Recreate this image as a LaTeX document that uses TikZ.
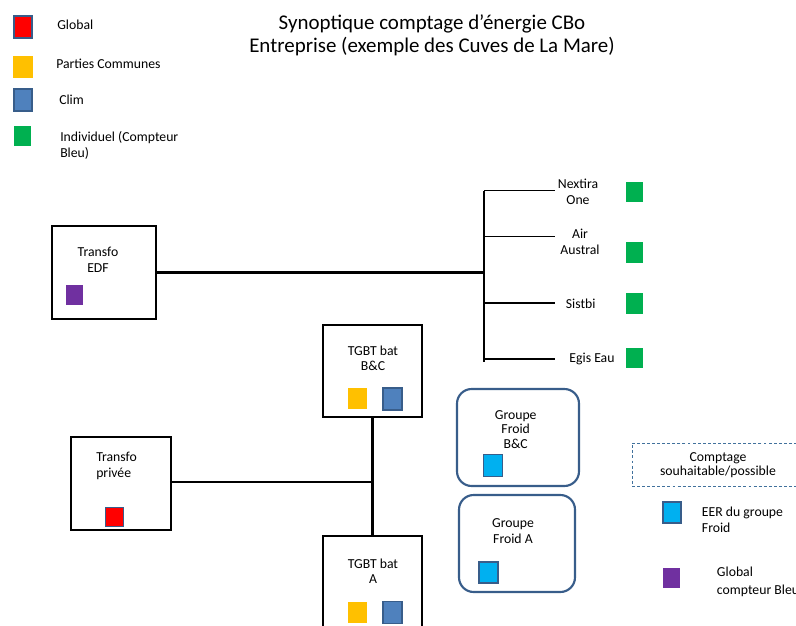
\documentclass[tikz,border=0pt]{standalone}
\usepackage{fontspec}
\setmainfont{Carlito}
\definecolor{mred}{HTML}{FF0000}
\definecolor{morange}{HTML}{FFC000}
\definecolor{mblue}{HTML}{4F81BD}
\definecolor{mborder}{HTML}{385D8A}
\definecolor{mgreen}{HTML}{00B050}
\definecolor{mpurple}{HTML}{7030A0}
\definecolor{mcyan}{HTML}{00B0F0}
\definecolor{dashblue}{HTML}{41719C}
\begin{document}
\begin{tikzpicture}[x=0.75pt,y=-0.75pt,
  every node/.style={font=\fontsize{10.3pt}{12pt}\selectfont, text=black},
  sq/.style 2 args={inner sep=0pt, minimum width=#1*0.75pt, minimum height=#2*0.75pt},
  redm/.style={fill=mred, draw=mborder, line width=1.2pt},
  orangem/.style={fill=morange},
  bluem/.style={fill=mblue, draw=mborder, line width=1.2pt},
  greenm/.style={fill=mgreen},
  purplem/.style={fill=mpurple},
  cyanm/.style={fill=mcyan, draw=mborder, line width=1.2pt},
  box/.style={draw=black, line width=1.6pt, inner sep=0pt},
  rbox/.style={draw=mborder, line width=1.6pt, rounded corners=11pt, inner sep=0pt},
  lbl/.style={align=center, inner sep=0pt},
  lbll/.style={align=left, inner sep=0pt, anchor=west},
  wire/.style={line width=1.6pt},
  thinwire/.style={line width=0.8pt},
  buswire/.style={line width=2.2pt}
]
\useasboundingbox (0,0) rectangle (796,625);
\clip (0,0) rectangle (796,625);

% Legend
\node[sq={18}{22}, redm] (lgred) at (23,27) {};
\node[lbll] (lgredt) at (57,25) {Global};
\node[sq={20}{22}, orangem] (lgor) at (23,67) {};
\node[lbll] (lgort) at (56,64) {Parties Communes};
\node[sq={18}{22}, bluem] (lgbl) at (23,100) {};
\node[lbll] (lgblt) at (59,100) {Clim};
\node[sq={17}{20}, greenm] (lggr) at (22.5,136) {};
\node[lbll] (lggrt) at (60,145) {Individuel (Compteur\\Bleu)};

% Title
\node[align=center, inner sep=0pt, font=\fontsize{15.7pt}{17.3pt}\selectfont] (title) at (432,35.5)
  {Synoptique comptage d’énergie CBo\\Entreprise (exemple des Cuves de La Mare)};

% Transfo EDF
\node[box, minimum width=104*0.75pt, minimum height=93*0.75pt] (edf) at (104,272.5) {};
\node[lbl] (edft) at (98,260) {Transfo\\EDF};
\node[sq={17}{20}, purplem] (edfm) at (74.5,295) {};

% Bus and branches
\coordinate (bustop) at (484,190.5);
\coordinate (busbot) at (484,362);
\draw[buswire] (bustop) -- (busbot);
\draw[wire] (edf.east) -- (edf.east -| bustop);
\coordinate (b1) at (555,190.5);
\coordinate (b2) at (555,236.7);
\coordinate (b3) at (555,303);
\coordinate (b4) at (555,359);
\foreach \b in {b1,b2,b3,b4} \draw[thinwire] (\b -| bustop) -- (\b);
\node[lbl] (nex) at (578,192) {Nextira\\One};
\node[lbl] (air) at (580,241.5) {Air\\Austral};
\node[lbl] (sis) at (580.7,304) {Sistbi};
\node[lbl] (egis) at (592,359) {Egis Eau};
\node[sq={17}{20}, greenm] (g1) at (634.3,192) {};
\node[sq={17}{21}, greenm] (g2) at (634.3,252.5) {};
\node[sq={17}{21}, greenm] (g3) at (634.3,303.5) {};
\node[sq={17}{20}, greenm] (g4) at (634.3,358) {};

% TGBT B&C
\node[box, minimum width=99*0.75pt, minimum height=92*0.75pt] (tbc) at (372.5,371) {};
\node[lbl, font=\fontsize{10.3pt}{11pt}\selectfont] (tbct) at (373,358.5) {TGBT bat\\B\&C};
\node[sq={19}{21}, orangem] (tbco) at (357.5,398.5) {};
\node[sq={19}{22}, bluem] (tbcb) at (392.5,399) {};

% TGBT A
\node[box, minimum width=99*0.75pt, minimum height=92*0.75pt] (ta) at (372.5,582) {};
\node[lbl, font=\fontsize{10.3pt}{11pt}\selectfont] (tat) at (373,571) {TGBT bat\\A};
\node[sq={19}{21}, orangem] (tao) at (357.5,612.5) {};
\node[sq={19}{22}, bluem] (tab) at (392.5,612.5) {};

% Transfo privée
\node[box, minimum width=100*0.75pt, minimum height=93*0.75pt] (tp) at (121,483.5) {};
\node[lbll] (tpt) at (96,465.5) {Transfo\\privée};
\node[sq={18}{19}, redm] (tpm) at (114.5,517) {};

\draw[wire] (tbc.south) -- (ta.north);
\coordinate (junc) at (373,482);
\draw[wire] (tp.east |- junc) -- (junc);

% Groupes froid
\node[rbox, minimum width=122*0.75pt, minimum height=97*0.75pt] (gfbc) at (518,437.5) {};
\node[lbl, font=\fontsize{10.3pt}{11pt}\selectfont] (gfbct) at (515.7,429.5) {Groupe\\Froid\\B\&C};
\node[sq={19}{22}, cyanm] (gfbcm) at (493,465.3) {};
\node[rbox, minimum width=116*0.75pt, minimum height=97*0.75pt] (gfa) at (517,543.5) {};
\node[lbl] (gfat) at (513,531) {Groupe\\Froid A};
\node[sq={19}{21}, cyanm] (gfam) at (488.3,572.2) {};

% Right legend
\node[draw=dashblue, line width=0.7pt, dash pattern=on 2.2pt off 1.6pt, inner sep=0pt,
  minimum width=180*0.75pt, minimum height=43*0.75pt] (dbox) at (722,464.5) {};
\node[lbl, font=\fontsize{10.3pt}{11pt}\selectfont] (dboxt) at (718,465) {Comptage\\souhaitable/possible};
\node[sq={18}{21}, cyanm] (lgcy) at (671.7,512.3) {};
\node[lbll] (lgcyt) at (701.7,520) {EER du groupe\\Froid};
\node[sq={17}{20}, purplem] (lgpu) at (671.5,577.7) {};
\node[lbll, font=\fontsize{10.3pt}{13.5pt}\selectfont] (lgput) at (716.7,582) {Global\\compteur Bleu};
\end{tikzpicture}
\end{document}
